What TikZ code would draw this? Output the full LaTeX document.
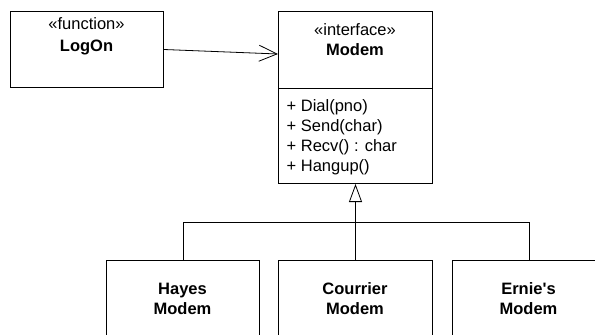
\documentclass[tikz,border=0pt]{standalone}
\usepackage{fontspec}
\setmainfont{Liberation Sans}
\usetikzlibrary{arrows.meta,calc}
\begin{document}
\begin{tikzpicture}[x=1pt,y=-1pt,
  box/.style={draw=black,line width=1pt,fill=white,rectangle,anchor=north west,inner sep=0pt},
  lbl/.style={inner sep=0pt,anchor=base,font=\fontsize{16.5}{20}\selectfont},
  blbl/.style={lbl,font=\fontsize{16.5}{20}\selectfont\bfseries},
  op/.style={inner sep=0pt,anchor=base west,font=\fontsize{16.5}{20}\selectfont},
  conn/.style={draw=black,line width=0.8pt}]
\useasboundingbox (0,0) rectangle (595,335);
\clip (0,0) rectangle (595,335);
% boxes
\node[box,minimum width=153pt,minimum height=76pt] (logon) at (10,11) {};
\node[box,minimum width=154pt,minimum height=77pt] (modemTop) at (278,11) {};
\node[box,minimum width=154pt,minimum height=95pt] (modemOps) at (278,88) {};
\node[box,minimum width=153pt,minimum height=76pt] (hayes) at (106,260) {};
\node[box,minimum width=154pt,minimum height=76pt] (courrier) at (278,260) {};
\node[box,minimum width=153pt,minimum height=76pt] (ernie) at (452,260) {};
% texts
\node[lbl] (logonS) at (86.5,29) {«function»};
\node[blbl] (logonN) at (86.5,51.5) {LogOn};
\node[lbl] (modemS) at (355,35.5) {«interface»};
\node[blbl] (modemN) at (355,55) {Modem};
\node[op] (op1) at (286.5,111) {+ Dial(pno)};
\node[op] (op2) at (286.5,131) {+ Send(char)};
\node[op] (op3) at (286.5,151) {+ Recv() : char};
\node[op] (op4) at (286.5,171) {+ Hangup()};
\node[blbl] (hayesA) at (182.5,294) {Hayes};
\node[blbl] (hayesB) at (182.5,314) {Modem};
\node[blbl] (courA) at (355,294) {Courrier};
\node[blbl] (courB) at (355,314) {Modem};
\node[blbl] (ernA) at (528.5,294) {Ernie\textquotesingle s};
\node[blbl] (ernB) at (528.5,314) {Modem};
% dependency
\draw[conn,-{Straight Barb[length=18pt,width=16pt,line width=0.8pt]}] (logon.east) -- ([yshift=-4pt]modemTop.west);
% generalization
\coordinate (junc) at (courrier.north |- 0,222);
\draw[conn,-{Triangle[open,length=18pt,width=13pt,fill=white,line width=0.8pt]}] (courrier.north) -- (modemOps.south);
\draw[conn] (hayes.north) |- (junc);
\draw[conn] (ernie.north) |- (junc);
\end{tikzpicture}
\end{document}
